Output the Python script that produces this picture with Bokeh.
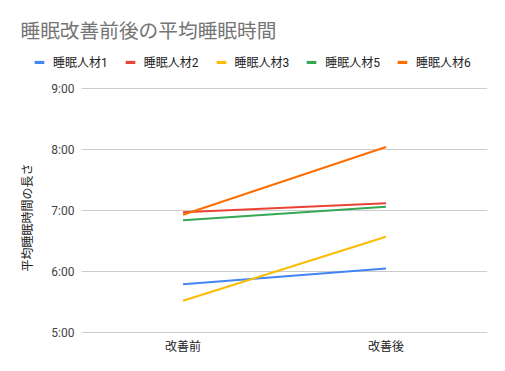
from bokeh.plotting import figure
from bokeh.layouts import column
from bokeh.models import FactorRange, Range1d, FixedTicker, Legend, LegendItem, Label, Title
from bokeh.embed import file_html
from bokeh.resources import INLINE

title_text = "睡眠改善前後の平均睡眠時間"
y_axis_title = "平均睡眠時間の長さ"
categories = ["改善前", "改善後"]
series_names = ["睡眠人材1", "睡眠人材2", "睡眠人材3", "睡眠人材5", "睡眠人材6"]
# average sleep duration in hours
s1 = [5.79, 6.05]
s2 = [6.97, 7.12]
s3 = [5.52, 6.57]
s5 = [6.84, 7.06]
s6 = [6.93, 8.04]
series_values = [s1, s2, s3, s5, s6]
colors = ["#4285F4", "#EA4335", "#FBBC04", "#34A853", "#FF6D01"]
y_ticks = [5, 6, 7, 8, 9]
y_tick_labels = ["5:00", "6:00", "7:00", "8:00", "9:00"]

FONT = "Roboto, 'Noto Sans CJK JP', sans-serif"
HEADER_H = 76

# ---- header: title + legend ----
h = figure(width=505, height=HEADER_H, output_backend="svg", toolbar_location=None,
           x_range=Range1d(0, 505), y_range=Range1d(HEADER_H, 0),
           x_axis_type=None, y_axis_type=None, min_border=0,
           min_border_left=0, min_border_right=0, min_border_top=0, min_border_bottom=0)
h.outline_line_color = None
h.xgrid.grid_line_color = None
h.ygrid.grid_line_color = None
h.background_fill_color = "white"
h.border_fill_color = "white"
h.add_layout(Label(x=20, y=30.5, text=title_text, text_font=FONT,
                   text_font_size="19.7px", text_color="#757575",
                   text_baseline="middle", text_align="left"))
items = []
for name, col in zip(series_names, colors):
    # legend-only proxy renderer, placed outside the visible header range
    dummy = h.quad(left=[-20], right=[-10], top=[-20], bottom=[-10],
                   fill_color=col, line_color=None)
    items.append(LegendItem(label=name, renderers=[dummy]))
legend = Legend(items=items, orientation="horizontal", location=(33, 6),
                glyph_width=12, glyph_height=4, label_standoff=8, spacing=16,
                padding=0, margin=0, border_line_color=None, background_fill_alpha=0,
                label_text_font=FONT, label_text_font_size="12px", label_text_color="#222222",
                label_height=16)
h.add_layout(legend, "center")

# ---- main chart ----
pad = 1 / 61
p = figure(width=505, height=371 - HEADER_H, output_backend="svg", toolbar_location=None,
           x_range=FactorRange(*categories, range_padding=0),
           y_range=Range1d(5 - pad, 9 + pad),
           min_border_left=81, min_border_right=18, min_border_top=87 - HEADER_H,
           min_border_bottom=38, title=None)
p.outline_line_color = None
p.background_fill_color = "white"
p.border_fill_color = "white"

for fig in (h, p):
    try:
        fig.frame_align = False
    except Exception:
        pass

for vals, col in zip(series_values, colors):
    p.line(categories, vals, line_color=col, line_width=2)

p.yaxis.ticker = FixedTicker(ticks=y_ticks)
p.yaxis.major_label_overrides = {t: l for t, l in zip(y_ticks, y_tick_labels)}
p.yaxis.axis_line_color = None
p.yaxis.major_tick_line_color = None
p.yaxis.minor_tick_line_color = None
p.yaxis.major_tick_out = 0
p.yaxis.major_label_standoff = 7
p.yaxis.major_label_text_font = FONT
p.yaxis.major_label_text_font_size = "12px"
p.yaxis.major_label_text_color = "#444444"

# vertical axis title, offset along the axis like the reference
p.add_layout(Title(text=y_axis_title, align="left", offset=62, standoff=28,
                   text_font=FONT, text_font_size="12px", text_font_style="normal",
                   text_color="#222222"), "left")

p.xaxis.axis_line_color = None
p.xaxis.major_tick_line_color = None
p.xaxis.major_tick_out = 0
p.xaxis.major_label_standoff = 6
p.xaxis.major_label_text_font = FONT
p.xaxis.major_label_text_font_size = "12px"
p.xaxis.major_label_text_color = "#222222"

p.xgrid.grid_line_color = None
p.ygrid.grid_line_color = "#cccccc"
p.ygrid.grid_line_width = 1

layout = column(h, p, spacing=0)
open("out.html", "w").write(file_html(layout, INLINE))
